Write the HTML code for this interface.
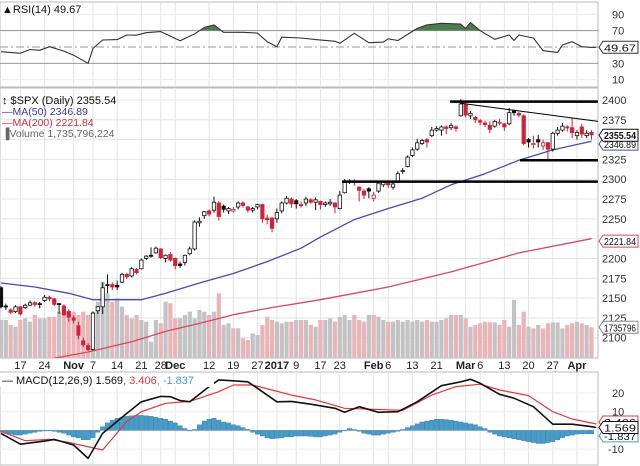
<!DOCTYPE html>
<html><head><meta charset="utf-8">
<style>
html,body{margin:0;padding:0;background:#fff;}
svg{display:block;font-family:"Liberation Sans",Arial,sans-serif;}
</style></head>
<body>
<svg id="chart" width="640" height="466" viewBox="0 0 640 466" xmlns="http://www.w3.org/2000/svg"></svg>
<script>
const opens=[2163,2140,2135,2133,2139,2138,2141,2144,2143,2147,2151,2149,2143,2140,2133,2125,2115,2096,2090,2085,2134,2139,2167,2167,2166,2170,2180,2178,2186,2187,2200,2204,2207,2212,2200,2205,2200,2193,2195,2206,2212,2245,2254,2260,2261,2270,2266,2260,2260,2265,2270,2265,2261,2265,2268,2251,2251,2250,2260,2270,2275,2273,2268,2270,2274,2271,2272,2268,2269,2270,2263,2283,2297,2298,2290,2285,2288,2276,2285,2293,2296,2290,2297,2310,2316,2330,2338,2345,2350,2355,2362,2362,2366,2365,2366,2380,2395,2380,2378,2374,2371,2368,2367,2371,2370,2370,2386,2383,2380,2350,2344,2350,2342,2346,2338,2358,2362,2366,2365,2355,2366,2355,2359];
const highs=[2165,2143,2137,2141,2140,2143,2147,2146,2145,2154,2153,2150,2144,2142,2136,2128,2120,2100,2093,2133,2140,2170,2180,2170,2172,2182,2182,2189,2188,2200,2204,2214,2215,2213,2205,2208,2201,2196,2205,2215,2248,2252,2260,2262,2278,2272,2268,2265,2265,2272,2272,2266,2265,2269,2269,2255,2252,2263,2272,2279,2277,2275,2272,2278,2276,2277,2273,2272,2275,2271,2285,2300,2300,2300,2291,2288,2290,2284,2297,2298,2298,2296,2310,2314,2330,2340,2351,2351,2352,2366,2367,2368,2368,2371,2368,2401,2396,2386,2380,2376,2374,2373,2375,2376,2371,2390,2388,2385,2382,2352,2355,2356,2350,2347,2360,2366,2371,2368,2378,2362,2370,2362,2362];
const lows=[2137,2135,2130,2131,2128,2136,2140,2139,2137,2145,2146,2140,2130,2127,2120,2118,2098,2088,2083,2084,2130,2130,2156,2160,2160,2169,2174,2176,2180,2186,2198,2201,2206,2199,2195,2196,2186,2188,2191,2204,2210,2240,2250,2253,2258,2248,2258,2256,2258,2262,2264,2258,2258,2262,2245,2243,2233,2245,2257,2268,2264,2263,2264,2266,2269,2261,2262,2265,2266,2257,2262,2282,2294,2292,2272,2275,2276,2272,2283,2290,2289,2287,2295,2307,2315,2328,2336,2343,2340,2353,2360,2355,2357,2362,2360,2379,2378,2376,2371,2368,2366,2358,2365,2368,2361,2368,2380,2378,2343,2340,2339,2340,2337,2324,2335,2355,2360,2360,2352,2350,2352,2352,2350];
const closes=[2139,2139,2132,2139,2130,2141,2144,2142,2142,2151,2149,2142,2142,2129,2126,2122,2103,2091,2085,2131,2139,2163,2167,2164,2164,2180,2177,2187,2182,2198,2203,2204,2213,2201,2204,2198,2191,2191,2204,2212,2246,2247,2259,2256,2271,2253,2262,2263,2262,2270,2267,2261,2263,2268,2250,2249,2238,2258,2270,2276,2269,2269,2268,2275,2271,2274,2268,2270,2271,2265,2280,2296,2298,2296,2286,2280,2285,2280,2295,2296,2293,2294,2307,2311,2328,2337,2346,2349,2347,2362,2364,2366,2364,2368,2364,2395,2381,2383,2375,2372,2369,2363,2373,2372,2366,2384,2384,2381,2345,2347,2345,2347,2346,2338,2358,2362,2367,2365,2359,2359,2357,2358,2356];
const volumes=[2147,2147,1865,1770,2147,2240,2050,2430,2240,2240,2330,2330,2617,2525,2617,2617,2430,2617,2430,2617,3180,4310,3655,3180,3370,2900,2430,2240,2430,2147,2050,920,2147,1960,3180,3090,2240,2240,2430,2617,2240,2710,2617,2430,2617,3655,1865,1960,1677,1677,1110,1017,1390,1300,1865,2330,2147,2050,1960,2050,2050,2147,2147,2147,1865,1770,2147,2147,2240,2050,2330,2430,2147,2430,2147,2050,2430,2430,2330,2147,2050,2050,2147,2050,2147,2050,2147,2050,2147,2050,2050,2147,2240,2430,2430,2430,2240,1770,1865,1960,2050,2010,2010,1865,2147,1770,3277,1865,2617,1770,1677,1865,1677,1960,2010,2010,1677,1865,1960,2050,1960,1865,1736];
const ma50Days=[0,7,14,19,29,34,41,48,55,62,66,73,80,87,93,100,107,114,122];
const ma50Vals=[2169,2164,2156,2148,2148,2156,2169,2181,2196,2213,2227,2249,2263,2276,2293,2307,2324,2337,2348];
const ma200Days=[11,18,27,34,41,48,55,66,80,93,107,122];
const ma200Vals=[2074,2082,2095,2108,2118,2129,2137,2148,2164,2183,2207,2225];
const rsiDays=[0,4,6,8,10,13,15,18,19,21,24,26,28,30,33,34,37,40,42,44,46,50,53,55,57,58,62,65,69,70,73,76,79,80,82,86,88,91,95,96,97,99,102,105,106,107,110,112,115,116,118,120,122,123];
const rsiVals=[44.3,42.3,47,46,50.4,45,40,30,48.3,58.6,59,64.7,64.5,67.5,68.8,66,57.7,66,74,77,68,68,67,56.5,50.4,62,61,59,57,54.5,66.8,55.3,56,60,58,72.8,77,79,78,72.7,80,70,59.4,64.7,58,64.7,61,45.5,43.4,52.4,56.5,50.4,49.5,49.67];
const macdDays=[0,4,9,11,15,18,21,26,29,33,35,37,39,43,45,48,51,53,57,60,64,69,71,74,78,82,86,91,95,97,99,103,106,110,114,118,122,123];
const macdVals=[-1.6,-7.4,-5.7,-4.8,-7.8,-15,-1.6,9.1,15.3,18.2,18,16,15.3,23.4,27,26.5,26,22.5,15.3,15.5,14,11.8,9.7,12.7,9.7,10,15.3,23.9,26,27.3,25.2,19.3,17.2,12.7,3.3,3.3,2,1.569];
const signalDays=[0,5,10,14,21,26,29,34,39,45,48,52,56,60,65,71,77,83,89,94,99,103,109,114,118,123];
const signalVals=[-0.6,-5.5,-4.8,-6.4,-10.5,4.7,10,14.5,15.5,20.7,24.3,24.3,21.6,18.9,16.3,11.8,11.3,10.7,18.9,23.4,24.7,21.6,18.6,10,6.1,3.406];
const histVals=[-1,-1.5,-2,-2.5,-2.5,-2,-1.5,-1,-0.5,-0.3,0,-0.5,-1,-1.5,-2.5,-3.5,-4,-5,-5,-4,-1,2,4,5.5,6.5,7,7.5,7.8,8,8,7.8,7.5,7,6.5,6,5,4,2.5,1,0,0.5,3,5,6,6.5,5.5,4.5,4,3,2.5,1.5,0.5,-1,-2,-3,-4,-4.5,-4.2,-4,-3.5,-3.5,-3,-3,-3,-3.2,-3.5,-3.5,-3,-2.5,-2,-1,0,1,0.5,-0.5,-1.5,-2,-2.5,-2.5,-2,-1.5,-1,-0.5,0.5,1.5,2.5,3.5,4.5,5,5.5,6,6,5.8,5.5,5,4.5,4,3.5,3,2,1,-1,-2,-3,-3.5,-4,-4.5,-5,-5.5,-6,-6.5,-7,-7,-6.5,-6,-5,-4,-3,-2.5,-2,-1.8,-1.8,-1.8];
const priceTicks=[2400,2375,2350,2325,2300,2275,2250,2225,2200,2175,2150,2125,2100];
const rsiTicks=[90,70,50,30,10];
const macdTicks=[20,10,0,-10];
const dateLabels=["17","24","Nov","7","14","21","28","Dec","12","19","27","2017","9","17","23","Feb","6","13","21","Mar","6","13","20","27","Apr"];
const dateDays=[4,9,15,19,24,29,33,36,43,48,53,57,61,66,70,77,80,85,90,96,99,104,109,114,119];
const boldLabels=["Nov","Dec","2017","Feb","Mar","Apr"];

const NS="http://www.w3.org/2000/svg";
const svg=document.getElementById('chart');
const PR=598;
function X(i){return 1+i*4.84;}
function PY(p){return 100+(2400-p)*0.7923;}
function RY(v){return 47-(v-50)*0.817;}
function MY(v){return 430.4-v*1.87;}
function VH(v){return v/56.5;}
function mk(tag,attrs,parent){const e=document.createElementNS(NS,tag);for(const k in attrs)e.setAttribute(k,attrs[k]);(parent||svg).appendChild(e);return e;}
function txt(s,x,y,attrs,parent){const t=mk('text',Object.assign({x:x,y:y,'font-size':11,fill:'#222'},attrs||{}),parent);t.textContent=s;return t;}

const defs=mk('defs',{});
const cp=mk('clipPath',{id:'pclip'},defs);mk('rect',{x:0,y:88,width:PR,height:270},cp);
const cr=mk('clipPath',{id:'rclip'},defs);mk('rect',{x:0,y:0,width:PR,height:RY(70)},cr);

let e;
e=mk('rect',{x:0,y:2,width:PR,height:85,fill:'#fff',stroke:'#bbb'});


e=mk('rect',{x:0,y:88,width:PR,height:270,fill:'#fff',stroke:'#bbb'});


e=mk('rect',{x:0,y:372,width:PR,height:93,fill:'#fff',stroke:'#bbb'});



dateDays.forEach(function(d,k){
  [[2,87],[88,358],[372,465]].forEach(function(r){
    const g=mk('line',{x1:X(d),x2:X(d),y1:r[0],y2:r[1],stroke:'#e4e4e4','stroke-width':1});
    
    
  });
  const t=txt(dateLabels[k],X(d),369,{'text-anchor':'middle','font-size':11,'font-weight':boldLabels.indexOf(dateLabels[k])>=0?'bold':'normal',fill:'#222'});
  
  
});

priceTicks.forEach(function(p){
  const g=mk('line',{x1:0,x2:PR,y1:PY(p),y2:PY(p),stroke:'#e4e4e4'});
  
  
  const t=txt(String(p),602,PY(p)+4,{'font-size':11,fill:'#333'});
  
  
});

volumes.forEach(function(v,i){
  const up=i===0?true:closes[i]>=closes[i-1];
  const h=VH(v);
  const b=mk('rect',{x:X(i)-2.1,y:358-h,width:4.2,height:h,fill:up?'#c3c3c3':'#eab4b8'});
  
  
});

function line(days,vals,yf,color,w,name,clip){
  const pts=days.map(function(d,k){return X(d).toFixed(1)+','+yf(vals[k]).toFixed(1);}).join(' ');
  const a={points:pts,fill:'none',stroke:color,'stroke-width':w,'stroke-linejoin':'round'};
  if(clip)a['clip-path']='url(#'+clip+')';
  const l=mk('polyline',a);
  
  
  return l;
}
line(ma200Days,ma200Vals,PY,'#d9485f',1.3,'ma200-line','pclip');
line(ma50Days,ma50Vals,PY,'#4a4ab0',1.3,'ma50-line','pclip');

closes.forEach(function(c,i){
  const o=opens[i],h=highs[i],l=lows[i];
  const down=i>0&&c<closes[i-1];
  const col=down?'#d0223a':'#111';
  const g=mk('g',{});
  
  
  mk('line',{x1:X(i),x2:X(i),y1:PY(h),y2:PY(l),stroke:col,'stroke-width':1},g);
  const top=PY(Math.max(o,c)),bot=PY(Math.min(o,c));
  mk('rect',{x:X(i)-1.7,y:top,width:3.4,height:Math.max(1,bot-top),fill:c>o?'#fff':col,stroke:col,'stroke-width':0.8},g);
});

function ann(x1,p1,x2,p2,w,name){const a=mk('line',{x1:x1,x2:x2,y1:PY(p1),y2:PY(p2),stroke:'#000','stroke-width':w});}
ann(450,2398,PR,2398,2.5,'resistance-2400');
ann(342,2297,PR,2297,2.5,'support-2300');
ann(520,2324,PR,2324,2.5,'support-2325');
ann(460,2396,PR,2373,1,'trend-line');

let lg=txt('\u2195 $SPX (Daily) 2355.54',2,104,{'font-size':11,fill:'#111'});


lg=txt('\u2014MA(50) 2346.89',2,115,{'font-size':10.5,fill:'#3a3aa0'});


lg=txt('\u2014MA(200) 2221.84',2,126,{'font-size':10.5,fill:'#c8344c'});


lg=txt('\u2590Volume 1,735,796,224',2,137,{'font-size':10.5,fill:'#666'});



function tag(label,y,color,bold,name){
  const g=mk('g',{});
  
  
  mk('path',{d:'M599,'+y+' l4,-6 h35 v12 h-35 z',fill:'#fff',stroke:color,'stroke-width':1},g);
  txt(label,604,y+4,{'font-size':10.5,'font-weight':bold?'bold':'normal',fill:'#111',textLength:32,lengthAdjust:'spacingAndGlyphs'},g);
}
tag('2346.89',PY(2346.89)+2,'#4a4ab0',false,'ma50-tag');
tag('2355.54',PY(2355.54),'#111',true,'price-tag');
tag('2221.84',PY(2221.84),'#d9485f',false,'ma200-tag');
tag('1735796',358-VH(1736),'#888',false,'volume-tag');

rsiTicks.forEach(function(v){
  if(v===70||v===30){const g=mk('line',{x1:0,x2:PR,y1:RY(v),y2:RY(v),stroke:'#999'});}
  else if(v===50){const g=mk('line',{x1:0,x2:PR,y1:RY(v),y2:RY(v),stroke:'#999','stroke-dasharray':'8,3,2,3'});}
  else{const g=mk('line',{x1:0,x2:PR,y1:RY(v),y2:RY(v),stroke:'#ececec'});}
  const t=txt(String(v),612,RY(v)+4,{'font-size':11,fill:'#333'});
  
  
});
const rpts=rsiDays.map(function(d,k){return X(d).toFixed(1)+','+RY(rsiVals[k]).toFixed(1);});
const fillPts=X(rsiDays[0])+','+RY(70)+' '+rpts.join(' ')+' '+X(rsiDays[rsiDays.length-1])+','+RY(70);
e=mk('polygon',{points:fillPts,fill:'#4d7d4d','clip-path':'url(#rclip)'});


line(rsiDays,rsiVals,RY,'#333',1.1,'rsi-line',null);
lg=txt('\u25B2RSI(14) 49.67',2,13,{'font-size':11,fill:'#111'});


tag('49.67',RY(49.67),'#333',false,'rsi-tag');

macdTicks.forEach(function(v){
  const g=mk('line',{x1:0,x2:PR,y1:MY(v),y2:MY(v),stroke:'#ececec'});
  
  
  if(v!==0){const t=txt(String(v),v<0?608:612,MY(v)+4,{'font-size':11,fill:'#333'});}
});
histVals.forEach(function(v,i){
  const y0=MY(0),y1=MY(v);
  const b=mk('rect',{x:X(i)-2.2,y:Math.min(y0,y1),width:4.4,height:Math.max(0.5,Math.abs(y1-y0)),fill:'#4a9cc8',stroke:'#2f7aa6','stroke-width':0.4});
  
  
});
line(signalDays,signalVals,MY,'#e0383a',1.2,'macd-signal-line',null);
line(macdDays,macdVals,MY,'#111',1.6,'macd-line',null);
const lb=mk('rect',{x:0,y:373,width:214,height:14,fill:'#fff'});


const mt=mk('text',{x:2,y:384,'font-size':11,fill:'#111'});


mt.innerHTML='\u2014 MACD(12,26,9) 1.569<tspan fill="#e0383a">, 3.406</tspan><tspan fill="#4a9cc8">, -1.837</tspan>';
tag('3.406',MY(3.406)-2,'#e0383a',false,'signal-tag');
tag('-1.837',MY(-1.837)+2,'#4a9cc8',false,'histogram-tag');
tag('1.569',MY(1.569),'#111',false,'macd-tag');
</script>
</body></html>
